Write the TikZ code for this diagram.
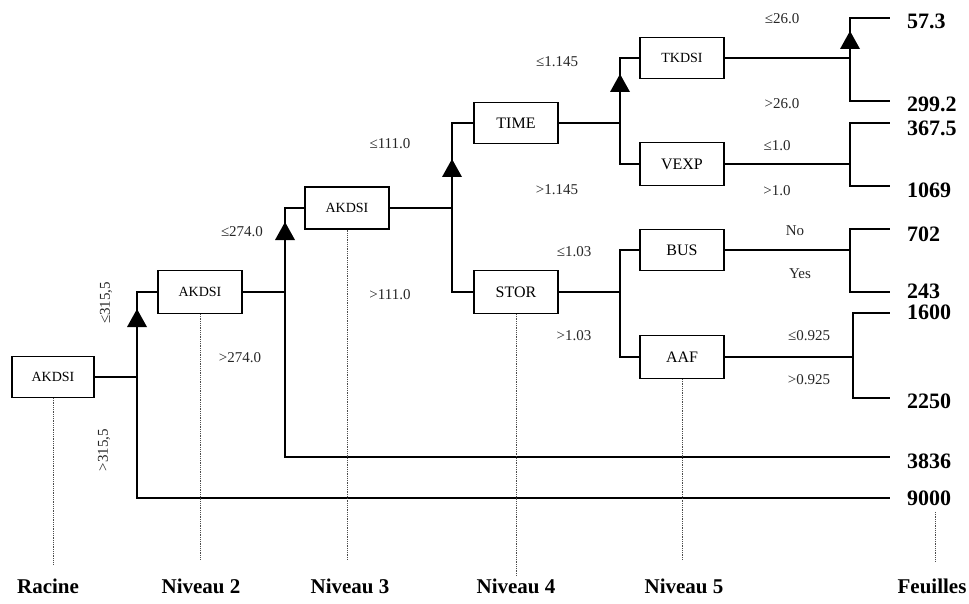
\documentclass[tikz,border=0pt]{standalone}
\usepackage{fontspec}
\setmainfont{Liberation Serif}
\begin{document}
\begin{tikzpicture}[x=1pt,y=-1pt,
  box/.style={draw, line width=1.1pt, minimum width=84pt, minimum height=42pt, inner sep=0pt, font=\fontsize{16}{16}\selectfont},
  sbox/.style={box, font=\fontsize{14}{14}\selectfont},
  edge/.style={line width=1.2pt},
  lbl/.style={font=\fontsize{15}{15}\selectfont, text=black!85, inner sep=0pt},
  leaf/.style={font=\bfseries\fontsize{22}{22}\selectfont, anchor=west, inner sep=0pt},
  lvl/.style={font=\bfseries\fontsize{21}{21}\selectfont, inner sep=0pt},
  guide/.style={densely dotted, line width=0.8pt, black!70},
  tri/.pic={\fill (-10,9) -- (0,-9) -- (10,9) -- cycle;}
]
\useasboundingbox (0,0) rectangle (969,604);

% boxes
\node[sbox, minimum width=82pt, minimum height=41pt] (r) at (53,377) {AKDSI};
\node[sbox, minimum height=43pt] (a2) at (200,292) {AKDSI};
\node[sbox] (a3) at (347,208) {AKDSI};
\node[box, minimum height=41pt] (time) at (516,123) {TIME};
\node[box, minimum height=43pt] (stor) at (516,292) {STOR};
\node[sbox, minimum height=41pt] (tk) at (682,58) {TKDSI};
\node[box, minimum height=43pt] (vexp) at (682,164) {VEXP};
\node[box, minimum height=41pt] (bus) at (682,250) {BUS};
\node[box, minimum height=43pt] (aaf) at (682,357) {AAF};

% junctions
\coordinate (j1) at (137,377);
\coordinate (j2) at (285,292);
\coordinate (j3) at (452,208);
\coordinate (j4) at (620,123);
\coordinate (j5) at (620,292);
\coordinate (j6) at (850,58);
\coordinate (j7) at (850,164);
\coordinate (j8) at (850,250);
\coordinate (j9) at (853,357);

% leaf line ends
\coordinate (e1) at (890,18);
\coordinate (e2) at (890,101);
\coordinate (e3) at (890,123);
\coordinate (e4) at (890,186);
\coordinate (e5) at (890,229);
\coordinate (e6) at (890,292);
\coordinate (e7) at (890,313);
\coordinate (e8) at (890,398);
\coordinate (e9) at (890,457);
\coordinate (e10) at (890,498);

% leaves
\node[leaf] (v1) at (907,21) {57.3};
\node[leaf] (v2) at (907,104) {299.2};
\node[leaf] (v3) at (907,128) {367.5};
\node[leaf] (v4) at (907,190) {1069};
\node[leaf] (v5) at (907,234) {702};
\node[leaf] (v6) at (907,291) {243};
\node[leaf] (v7) at (907,312) {1600};
\node[leaf] (v8) at (907,401) {2250};
\node[leaf] (v9) at (907,461) {3836};
\node[leaf] (v10) at (907,498) {9000};

% connectors
\draw[edge] (r.east) -- (j1);
\draw[edge] (j1) |- (a2.west);
\draw[edge] (j1) |- (e10);
\draw[edge] (a2.east) -- (j2);
\draw[edge] (j2) |- (a3.west);
\draw[edge] (j2) |- (e9);
\draw[edge] (a3.east) -- (j3);
\draw[edge] (j3) |- (time.west);
\draw[edge] (j3) |- (stor.west);
\draw[edge] (time.east) -- (j4);
\draw[edge] (j4) |- (tk.west);
\draw[edge] (j4) |- (vexp.west);
\draw[edge] (stor.east) -- (j5);
\draw[edge] (j5) |- (bus.west);
\draw[edge] (j5) |- (aaf.west);
\draw[edge] (tk.east) -- (j6);
\draw[edge] (j6) |- (e1);
\draw[edge] (j6) |- (e2);
\draw[edge] (vexp.east) -- (j7);
\draw[edge] (j7) |- (e3);
\draw[edge] (j7) |- (e4);
\draw[edge] (bus.east) -- (j8);
\draw[edge] (j8) |- (e5);
\draw[edge] (j8) |- (e6);
\draw[edge] (aaf.east) -- (j9);
\draw[edge] (j9) |- (e7);
\draw[edge] (j9) |- (e8);

% triangles
\pic at (137,318) {tri};
\pic at (285,231) {tri};
\pic at (452,168) {tri};
\pic at (620,83) {tri};
\pic at (850,40) {tri};

% edge labels
\node[lbl, rotate=90] (l1) at (106,303) {≤315,5};
\node[lbl, rotate=90] (l2) at (104,450) {>315,5};
\node[lbl] (l3) at (242,232) {≤274.0};
\node[lbl] (l4) at (240,358) {>274.0};
\node[lbl] (l5) at (390,144) {≤111.0};
\node[lbl] (l6) at (390,295) {>111.0};
\node[lbl] (l7) at (557,62) {≤1.145};
\node[lbl] (l8) at (557,190) {>1.145};
\node[lbl] (l9) at (574,252) {≤1.03};
\node[lbl] (l10) at (574,336) {>1.03};
\node[lbl] (l11) at (782,19) {≤26.0};
\node[lbl] (l12) at (782,104) {>26.0};
\node[lbl] (l13) at (777,146) {≤1.0};
\node[lbl] (l14) at (777,191) {>1.0};
\node[lbl] (l15) at (795,231) {No};
\node[lbl] (l16) at (800,274) {Yes};
\node[lbl] (l17) at (809,336) {≤0.925};
\node[lbl] (l18) at (809,380) {>0.925};

% guide lines and level names
\node[lvl] (n1) at (48,586) {Racine};
\node[lvl] (n2) at (201,586) {Niveau 2};
\node[lvl] (n3) at (350,586) {Niveau 3};
\node[lvl] (n4) at (516,586) {Niveau 4};
\node[lvl] (n5) at (684,586) {Niveau 5};
\node[lvl] (n6) at (932,586) {Feuilles};
\coordinate (g6) at (935,512);
\draw[guide] (r.south) -- (r.south |- 0,565);
\draw[guide] (a2.south) -- (a2.south |- 0,560);
\draw[guide] (a3.south) -- (a3.south |- 0,560);
\draw[guide] (stor.south) -- (stor.south |- 0,576);
\draw[guide] (aaf.south) -- (aaf.south |- 0,560);
\draw[guide] (g6) -- (g6 |- 0,562);
\end{tikzpicture}
\end{document}
